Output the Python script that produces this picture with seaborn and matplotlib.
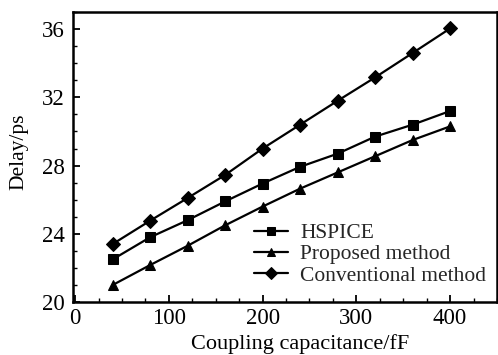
import matplotlib
matplotlib.use("Agg")
import matplotlib.pyplot as plt
import seaborn as sns
import pandas as pd
from matplotlib.ticker import MultipleLocator

cap = [40, 80, 120, 160, 200, 240, 280, 320, 360, 400]
hspice = [22.5, 23.8, 24.8, 25.9, 26.95, 27.93, 28.7, 29.7, 30.4, 31.2]
proposed = [21.0, 22.17, 23.3, 24.5, 25.6, 26.65, 27.6, 28.55, 29.5, 30.3]
conventional = [23.4, 24.77, 26.1, 27.45, 29.0, 30.4, 31.8, 33.17, 34.6, 36.04]
labels = ["HSPICE", "Proposed method", "Conventional method"]

df = pd.DataFrame({
    "cap": cap * 3,
    "delay": hspice + proposed + conventional,
    "series": [labels[0]] * len(cap) + [labels[1]] * len(cap) + [labels[2]] * len(cap),
})

sns.set_style("ticks")
plt.rcParams["font.family"] = ["Liberation Serif", "DejaVu Serif"]

fig = plt.figure(figsize=(4.98, 3.55), dpi=100)
ax = fig.add_axes([0.147, 0.149, 0.851, 0.817])

sns.lineplot(data=df, x="cap", y="delay", hue="series", style="series",
             markers={labels[0]: "s", labels[1]: "^", labels[2]: "D"},
             dashes=False, palette=["black"] * 3, linewidth=1.6,
             markersize=7.5, markeredgecolor="black", ax=ax)

ax.set_xlim(-2, 450)
ax.set_ylim(20, 37)
ax.xaxis.set_major_locator(MultipleLocator(100))
ax.xaxis.set_minor_locator(MultipleLocator(25))
ax.yaxis.set_major_locator(MultipleLocator(4))
ax.yaxis.set_minor_locator(MultipleLocator(1))
ax.tick_params(which="both", direction="in", top=False, right=False, labelsize=16.5,
               color="black", labelcolor="black")
ax.tick_params(which="major", length=5, width=1.3)
ax.tick_params(axis="y", which="major", pad=6)
ax.tick_params(axis="x", which="major", pad=4)
ax.tick_params(which="minor", length=3, width=1.0)
for s in ax.spines.values():
    s.set_linewidth(1.8)
    s.set_color("black")

ax.set_xlabel("Coupling capacitance/fF", fontsize=16, color="black")
ax.set_ylabel("Delay/ps", fontsize=15.5, color="black")
ax.xaxis.set_label_coords(0.535, -0.11)
ax.yaxis.set_label_coords(-0.105, 0.52)

leg = ax.legend(loc="lower right", frameon=False, fontsize=15.5, labelspacing=0.05,
                handlelength=1.6, handletextpad=0.55, borderaxespad=0.1,
                markerscale=0.8, bbox_to_anchor=(1.0, 0.02))

fig.savefig("out.png", dpi=100)
